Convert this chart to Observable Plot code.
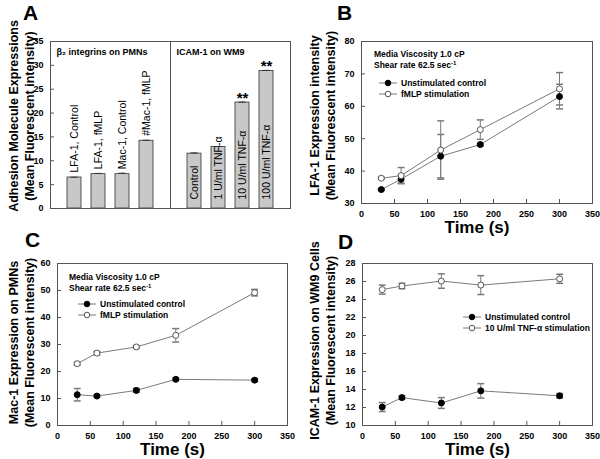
<!DOCTYPE html>
<html>
<head>
<meta charset="utf-8">
<script src="https://cdn.jsdelivr.net/npm/d3@7"></script>
<script src="https://cdn.jsdelivr.net/npm/@observablehq/plot@0.6"></script>
<style>
  html, body { margin: 0; padding: 0; background: #fff; }
  #fig { position: relative; width: 600px; height: 459px; overflow: hidden; font-family: 'Liberation Sans', Arial, Helvetica, sans-serif; }
  #fig svg { position: absolute; overflow: visible; }
</style>
</head>
<body>
<div id="fig"></div>
<script>
const FONT = "'Liberation Sans', Arial, Helvetica, sans-serif";

// ---------- Panel A data ----------
const barCategories = ["LFA-1, Control", "LFA-1, fMLP", "Mac-1, Control", "Mac-1, fMLP", "Control", "1 U/ml TNF-α", "10 U/ml TNF-α", "100 U/ml TNF-α"];
const barGroups = ["PMN", "PMN", "PMN", "PMN", "WM9", "WM9", "WM9", "WM9"];
const barValues = [6.5, 7.2, 7.2, 14.2, 11.5, 12.9, 22.2, 28.8];
const barErrors = [0.05, 0.15, 0.2, 0.1, 0.15, 0.1, 0.1, 0.15];
const barLabels = ["LFA-1, Control", "LFA-1, fMLP", "Mac-1, Control", "#Mac-1, fMLP", "Control", "1 U/ml TNF-α", "10 U/ml TNF-α", "100 U/ml TNF-α"];
const barStars = ["", "", "", "", "", "", "**", "**"];
const groupHeaders = ["β₂ integrins on PMNs", "ICAM-1 on WM9"];
const aTicks = [0, 5, 10, 15, 20, 25, 30, 35];

// ---------- Time course data ----------
const timePoints = [30, 60, 120, 180, 300];
const timeTicks = [0, 50, 100, 150, 200, 250, 300, 350];

// B: LFA-1
const lfaControl = [34.3, 37.5, 44.6, 48.2, 63.0];
const lfaControlErr = [0.3, 1.2, 6.7, 0.5, 3.8];
const lfaFmlp = [37.8, 38.6, 46.5, 52.8, 65.4];
const lfaFmlpErr = [0.3, 2.5, 9.0, 3.0, 5.0];
const bTicks = [30, 40, 50, 60, 70, 80];

// C: Mac-1
const macControl = [11.4, 10.9, 13.0, 17.1, 16.8];
const macControlErr = [2.3, 0.4, 0.7, 0.5, 0.5];
const macFmlp = [22.9, 26.8, 29.1, 33.4, 49.2];
const macFmlpErr = [0.5, 0.6, 0.5, 2.5, 1.2];
const cTicks = [0, 10, 20, 30, 40, 50, 60];

// D: ICAM-1
const icamControl = [12.05, 13.1, 12.5, 13.85, 13.3];
const icamControlErr = [0.5, 0.2, 0.6, 0.8, 0.25];
const icamTnf = [25.1, 25.5, 26.05, 25.6, 26.3];
const icamTnfErr = [0.5, 0.3, 0.8, 1.05, 0.5];
const dTicks = [10, 12, 14, 16, 18, 20, 22, 24, 26, 28];

const fig = document.getElementById("fig");
function place(svg, left, top) {
  svg.style.left = left + "px";
  svg.style.top = top + "px";
  fig.appendChild(svg);
}

// ---------- Panel A ----------
const barData = barCategories.map((c, i) => ({
  cat: c, group: barGroups[i], value: barValues[i], err: barErrors[i], label: barLabels[i], star: barStars[i]
}));
const slotDomain = [...barCategories.slice(0, 4), "divider", ...barCategories.slice(4)];

const plotA = Plot.plot({
  width: 300, height: 230,
  marginLeft: 50, marginRight: 10, marginTop: 41, marginBottom: 22,
  style: {fontFamily: FONT, fontSize: "9px", background: "transparent", overflow: "visible"},
  x: {type: "band", domain: slotDomain, paddingInner: 0.4, paddingOuter: 0.64, axis: null},
  y: {domain: [0, 35]},
  marks: [
    Plot.barY(barData, {x: "cat", y: "value", fill: "#c8c8c8", stroke: "#333", strokeWidth: 0.8}),
    Plot.ruleX(barData, {x: "cat", y1: "value", y2: d => d.value + d.err, stroke: "#333"}),
    Plot.tickY(barData, {x: "cat", y: d => d.value + d.err, stroke: "#333", insetLeft: 3.5, insetRight: 3.5}),
    Plot.ruleX(["divider"], {x: d => d, stroke: "#555"}),
    Plot.text(barData.filter(d => d.group === "PMN"), {x: "cat", y: "value", text: "label", rotate: -90, textAnchor: "start", lineAnchor: "middle", dy: -5, fontSize: 10.5}),
    Plot.text(barData.filter(d => d.group === "WM9"), {x: "cat", frameAnchor: "bottom", text: "label", rotate: -90, textAnchor: "start", lineAnchor: "middle", dy: -9, fontSize: 10.5}),
    Plot.text(barData.filter(d => d.star), {x: "cat", y: d => d.value + d.err, text: "star", lineAnchor: "bottom", dy: 1, fontSize: 15, fontWeight: "bold"}),
    Plot.text([groupHeaders[0]], {frameAnchor: "top-left", text: d => d, dx: 6, dy: 11, textAnchor: "start", lineAnchor: "middle", fontWeight: "bold", fontSize: 9}),
    Plot.text([groupHeaders[1]], {x: () => "divider", frameAnchor: "top", text: d => d, dx: 6, dy: 11, textAnchor: "start", lineAnchor: "middle", fontWeight: "bold", fontSize: 9}),
    Plot.frame({stroke: "#555"}),
    Plot.axisY({ticks: aTicks, tickSize: -4, tickPadding: 11, fontWeight: "bold", label: null, stroke: "#555"}),
    Plot.text(["Adhesion Molecule Expressions\n(Mean Fluorescent intensity)"], {frameAnchor: "left", text: d => d, rotate: -90, textAnchor: "middle", lineAnchor: "middle", dx: -30, dy: -9, fontSize: 12.5, fontWeight: "bold", lineHeight: 1.3})
  ]
});
place(plotA, 0, 0);

// ---------- Time panels ----------
const capSymbol = {
  draw(context, size) {
    const r = Math.sqrt(size / Math.PI);
    context.moveTo(-r, 0);
    context.lineTo(r, 0);
  }
};

function timePanel({series, yDomain, yTicks, yTitle, margins, titleDx, titleDy}) {
  const marks = [];
  const datasets = series.map(s => timePoints.map((t, i) => ({t, v: s.values[i], e: s.errors[i]})));
  datasets.forEach(data => marks.push(Plot.line(data, {x: "t", y: "v", stroke: "#7a7a7a", strokeWidth: 1})));
  datasets.forEach(data => {
    marks.push(Plot.ruleX(data, {x: "t", y1: d => d.v - d.e, y2: d => d.v + d.e, stroke: "#7a7a7a"}));
    marks.push(Plot.dot(data, {x: "t", y: d => d.v + d.e, symbol: capSymbol, r: 3.5, stroke: "#7a7a7a", fill: "none"}));
    marks.push(Plot.dot(data, {x: "t", y: d => d.v - d.e, symbol: capSymbol, r: 3.5, stroke: "#7a7a7a", fill: "none"}));
  });
  datasets.forEach((data, k) => marks.push(Plot.dot(data, {
    x: "t", y: "v", r: 3,
    fill: series[k].filled ? "#000" : "#fff",
    stroke: series[k].filled ? "#000" : "#555", strokeWidth: 1
  })));
  marks.push(
    Plot.frame({stroke: "#555"}),
    Plot.axisX({ticks: timeTicks, tickSize: -4, tickPadding: 11, fontWeight: "bold", label: null, stroke: "#555"}),
    Plot.axisY({ticks: yTicks, tickSize: -4, tickPadding: 11, fontWeight: "bold", label: null, stroke: "#555"}),
    Plot.text([yTitle], {frameAnchor: "left", text: d => d, rotate: -90, textAnchor: "middle", lineAnchor: "middle", dx: titleDx, dy: titleDy, fontSize: 12.5, fontWeight: "bold", lineHeight: 1.3}),
    Plot.text(["Time (s)"], {frameAnchor: "bottom", text: d => d, textAnchor: "middle", lineAnchor: "middle", dy: 24, fontSize: 17, fontWeight: "bold"})
  );
  return Plot.plot({
    ...margins,
    style: {fontFamily: FONT, fontSize: "9px", background: "transparent", overflow: "visible"},
    x: {domain: [0, 350]},
    y: {domain: yDomain},
    marks
  });
}

const plotB = timePanel({
  series: [
    {values: lfaControl, errors: lfaControlErr, filled: true},
    {values: lfaFmlp, errors: lfaFmlpErr, filled: false}
  ],
  yDomain: [30, 80], yTicks: bTicks,
  yTitle: "LFA-1 Expression intensity\n(Mean Fluorescent intensity)",
  margins: {width: 300, height: 230, marginLeft: 61, marginRight: 8, marginTop: 41, marginBottom: 27},
  titleDx: -40, titleDy: -7
});
place(plotB, 300, 0);

const plotC = timePanel({
  series: [
    {values: macControl, errors: macControlErr, filled: true},
    {values: macFmlp, errors: macFmlpErr, filled: false}
  ],
  yDomain: [0, 60], yTicks: cTicks,
  yTitle: "Mac-1 Expression on PMNs\n(Mean Fluorescent intensity)",
  margins: {width: 300, height: 229, marginLeft: 57, marginRight: 13, marginTop: 33, marginBottom: 34},
  titleDx: -37, titleDy: -2
});
place(plotC, 0, 230);

const plotD = timePanel({
  series: [
    {values: icamControl, errors: icamControlErr, filled: true},
    {values: icamTnf, errors: icamTnfErr, filled: false}
  ],
  yDomain: [10, 28], yTicks: dTicks,
  yTitle: "ICAM-1 Expression on WM9 Cells\n(Mean Fluorescent intensity)",
  margins: {width: 300, height: 229, marginLeft: 62, marginRight: 8, marginTop: 33, marginBottom: 34},
  titleDx: -41, titleDy: -4
});
place(plotD, 300, 230);

// ---------- Overlay: panel letters and legends ----------
const overlay = d3.create("svg")
  .attr("width", 600).attr("height", 459)
  .attr("font-family", FONT)
  .style("left", "0px").style("top", "0px").style("pointer-events", "none");

const panelLetters = [
  {t: "A", x: 23, y: 20}, {t: "B", x: 337, y: 20},
  {t: "C", x: 25, y: 247}, {t: "D", x: 338, y: 249}
];
overlay.selectAll("text.letter").data(panelLetters).join("text")
  .attr("class", "letter").attr("x", d => d.x).attr("y", d => d.y)
  .attr("font-size", 21).attr("font-weight", "bold").text(d => d.t);

function conditionNote(x, yTop) {
  overlay.append("text").attr("x", x).attr("y", yTop).attr("dy", "0.35em")
    .attr("font-size", 8.5).attr("font-weight", "bold").text("Media Viscosity 1.0 cP");
  const t = overlay.append("text").attr("x", x).attr("y", yTop + 11.5).attr("dy", "0.35em")
    .attr("font-size", 8.5).attr("font-weight", "bold");
  t.append("tspan").text("Shear rate 62.5 sec");
  t.append("tspan").attr("font-size", 6).attr("dy", "-0.6em").text("-1");
}

function legend(x, y, items) {
  items.forEach((it, i) => {
    const yy = y + i * 11;
    overlay.append("line").attr("x1", x).attr("x2", x + 18).attr("y1", yy).attr("y2", yy)
      .attr("stroke", "#7a7a7a");
    overlay.append("circle").attr("cx", x + 9).attr("cy", yy).attr("r", 2.8)
      .attr("fill", it.filled ? "#000" : "#fff").attr("stroke", it.filled ? "#000" : "#555");
    overlay.append("text").attr("x", x + 22).attr("y", yy).attr("dy", "0.35em")
      .attr("font-size", 8.5).attr("font-weight", "bold").text(it.label);
  });
}

conditionNote(374, 54);
legend(379, 83, [{label: "Unstimulated control", filled: true}, {label: "fMLP stimulation", filled: false}]);
conditionNote(69, 277);
legend(78, 304, [{label: "Unstimulated control", filled: true}, {label: "fMLP stimulation", filled: false}]);
legend(463, 317, [{label: "Unstimulated control", filled: true}, {label: "10 U/ml TNF-α stimulation", filled: false}]);

fig.appendChild(overlay.node());
</script>
</body>
</html>
